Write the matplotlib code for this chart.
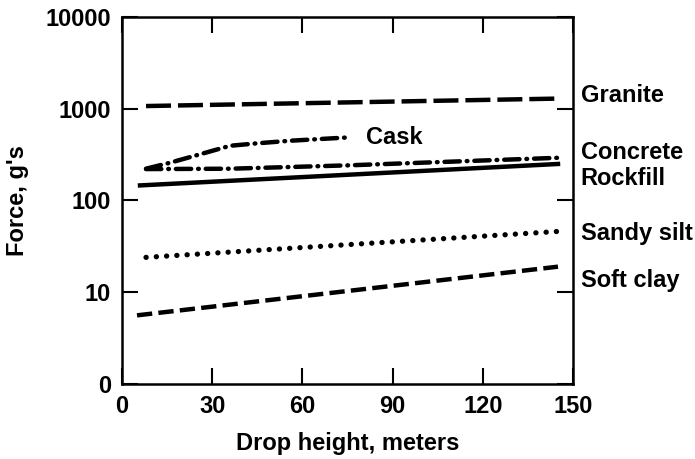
import numpy as np
import matplotlib
matplotlib.use("Agg")
import matplotlib.pyplot as plt

# data (force in g's vs drop height in meters)
granite_h = [8, 145]
granite_f = [1070, 1290]

cask_h = [8, 16, 28, 36, 45, 56, 68, 75]
cask_f = [222, 258, 333, 395, 420, 448, 472, 486]

concrete_h = [8, 36, 76, 145]
concrete_f = [220, 222, 242, 292]

rockfill_h = [6, 145]
rockfill_f = [146, 250]

silt_h = [8, 145]
silt_f = [24, 46]

clay_h = [5, 145]
clay_f = [5.6, 19]

x_ticks = [0, 30, 60, 90, 120, 150]
y_ticks = [1, 10, 100, 1000, 10000]
y_tick_labels = ['0', '10', '100', '1000', '10000']

names = ['Granite', 'Concrete', 'Rockfill', 'Sandy silt', 'Soft clay']
name_y = [1380, 333, 174, 44, 13.5]

plt.rcParams['font.family'] = ['Liberation Sans', 'DejaVu Sans']
plt.rcParams['font.weight'] = 'bold'
plt.rcParams['lines.scale_dashes'] = False

fig = plt.figure(figsize=(6.95, 4.59), dpi=100)
ax = fig.add_axes([0.1755, 0.1634, 0.649, 0.7996])

lw = 3.2
ax.plot(granite_h, granite_f, color='black', lw=lw, dashes=(18, 5))
ax.plot(cask_h, cask_f, color='black', lw=lw, dashes=(11, 5, 0.5, 5), dash_capstyle='round')
ax.plot(concrete_h, concrete_f, color='black', lw=lw, dashes=(11, 5, 0.5, 5), dash_capstyle='round')
ax.plot(rockfill_h, rockfill_f, color='black', lw=lw)
ax.plot(silt_h, silt_f, color='black', lw=3.8, dashes=(0.1, 7.3), dash_capstyle='round')
ax.plot(clay_h, clay_f, color='black', lw=lw, dashes=(11, 4.5))

ax.set_yscale('log')
ax.set_xlim(0, 150)
ax.set_ylim(1, 10000)
ax.set_xticks(x_ticks)
ax.set_yticks(y_ticks)
ax.set_yticklabels(y_tick_labels)
ax.minorticks_off()
ax.tick_params(which='major', direction='in', length=11.5, width=1.5,
               top=True, right=True, labelsize=17, pad=8)
for s in ax.spines.values():
    s.set_linewidth(1.8)

for name, y in zip(names, name_y):
    ax.text(152.5, y, name, fontsize=17, fontweight='bold', va='center', ha='left', clip_on=False)
ax.text(81, 486, 'Cask', fontsize=17, fontweight='bold', va='center', ha='left')

ax.set_xlabel('Drop height, meters', fontsize=17, fontweight='bold', labelpad=10)
ax.set_ylabel("Force, g's", fontsize=17, fontweight='bold', labelpad=12)

fig.savefig('out.png', dpi=100)
